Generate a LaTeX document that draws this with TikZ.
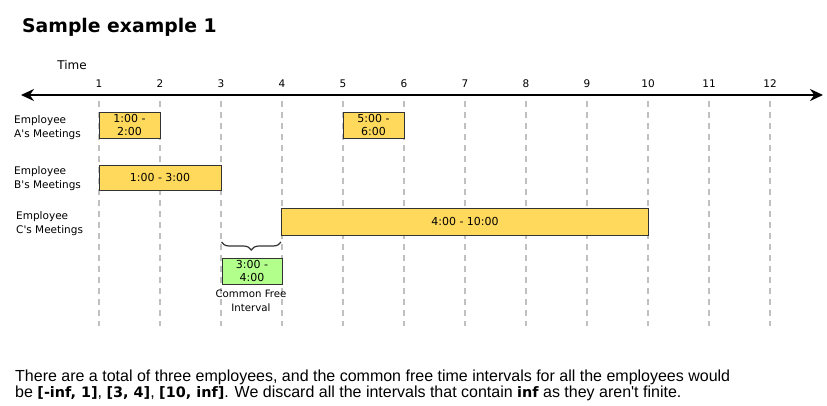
\documentclass[tikz,border=0pt]{standalone}
\usepackage{fontspec}
\setmainfont{DejaVu Sans}
\newfontfamily\bodyfont{Liberation Sans}
\newfontfamily\hlfont{DejaVu Sans}
\newcommand\hl[1]{{\hlfont\bfseries\fontsize{14.4}{15}\selectfont #1}}
\usetikzlibrary{arrows.meta,decorations.pathreplacing}
\definecolor{meetyellow}{HTML}{FFD95C}
\definecolor{freegreen}{HTML}{B3FF8C}
\definecolor{boxline}{HTML}{333333}
\definecolor{gridgray}{HTML}{C0C0C0}
\begin{document}
\begin{tikzpicture}[x=1pt,y=-1pt,
    every node/.style={inner sep=0pt,font=\fontsize{10.5}{13}\selectfont},
    meet/.style={draw=boxline,fill=meetyellow,line width=1pt,align=center,font=\fontsize{11}{13}\selectfont},
    free/.style={draw=boxline,fill=freegreen,line width=1pt,align=center,font=\fontsize{11}{13}\selectfont},
    who/.style={anchor=base west,align=left,font=\fontsize{10.5}{14}\selectfont},
    grid/.style={gridgray,line width=1.5pt,dash pattern=on 6pt off 5pt},
    fbrace/.style={boxline,line width=1.2pt,decorate,decoration={brace,amplitude=8pt,mirror}}]
            \useasboundingbox (0,0) rectangle (827,405);
            % title and axis
            \node [anchor=base west,font=\fontsize{18.8}{22}\selectfont\bfseries] (title) at (22,32) {Sample example 1};
            \node [anchor=base,font=\fontsize{12}{14}\selectfont] (time) at (72,69) {Time};
            \coordinate (axL) at (21,95);
            \coordinate (axR) at (823,95);
            \draw [black,line width=2.5pt,{Stealth[length=13pt,width=12pt]}-{Stealth[length=13pt,width=12pt]}] (axL) -- (axR);
            \node [anchor=base] (t1) at (99,87) {1};
            \node [anchor=base] (t2) at (160,87) {2};
            \node [anchor=base] (t3) at (221,87) {3};
            \node [anchor=base] (t4) at (282,87) {4};
            \node [anchor=base] (t5) at (343,87) {5};
            \node [anchor=base] (t6) at (404,87) {6};
            \node [anchor=base] (t7) at (465,87) {7};
            \node [anchor=base] (t8) at (526,87) {8};
            \node [anchor=base] (t9) at (587,87) {9};
            \node [anchor=base] (t10) at (648,87) {10};
            \node [anchor=base] (t11) at (709,87) {11};
            \node [anchor=base] (t12) at (770,87) {12};
            % dashed hour lines
            \coordinate (gtop) at (0,101);
            \coordinate (gbot) at (0,326);
            \draw [grid] (t1 |- gtop) -- (t1 |- gbot);
            \draw [grid] (t2 |- gtop) -- (t2 |- gbot);
            \draw [grid] (t3 |- gtop) -- (t3 |- gbot);
            \draw [grid] (t4 |- gtop) -- (t4 |- gbot);
            \draw [grid] (t5 |- gtop) -- (t5 |- gbot);
            \draw [grid] (t6 |- gtop) -- (t6 |- gbot);
            \draw [grid] (t7 |- gtop) -- (t7 |- gbot);
            \draw [grid] (t8 |- gtop) -- (t8 |- gbot);
            \draw [grid] (t9 |- gtop) -- (t9 |- gbot);
            \draw [grid] (t10 |- gtop) -- (t10 |- gbot);
            \draw [grid] (t11 |- gtop) -- (t11 |- gbot);
            \draw [grid] (t12 |- gtop) -- (t12 |- gbot);
            % employees
            \node [who] (labA) at (14,137) {Employee\\A\textquotesingle s Meetings};
            \node [who] (labB) at (14,188) {Employee\\B\textquotesingle s Meetings};
            \node [who] (labC) at (16,233) {Employee\\C\textquotesingle s Meetings};
            \node [meet,minimum width=61pt,minimum height=26pt] (mA1) at (129.5,125) {1:00 -\\2:00};
            \node [meet,minimum width=61pt,minimum height=26pt] (mA2) at (373.5,125) {5:00 -\\6:00};
            \node [meet,minimum width=122pt,minimum height=25pt] (mB) at (160,177.5) {1:00 - 3:00};
            \node [meet,minimum width=367pt,minimum height=27pt] (mC) at (465,221.5) {4:00 - 10:00};
            % free interval
            \coordinate (bry) at (0,242);
            \draw [fbrace] (mB.east |- bry) -- (mC.west |- bry);
            \node [free,minimum width=60pt,minimum height=26pt] (fr) at (252,271) {3:00 -\\4:00};
            \node [anchor=base,align=center,font=\fontsize{10.2}{14}\selectfont] (frtxt) at (251,311) {Common Free\\Interval};
            % note
            \node [anchor=base west,align=left,font=\bodyfont\fontsize{16}{15.5}\selectfont] (note) at (15,397) {There are a total of three employees, and the common free time intervals for all the employees would\\be \hl{[-inf, 1]}, \hl{[3, 4]}, \hl{[10, inf]}. We discard all the intervals that contain \hl{inf} as they aren\textquotesingle t finite.};
        \end{tikzpicture}
\end{document}
